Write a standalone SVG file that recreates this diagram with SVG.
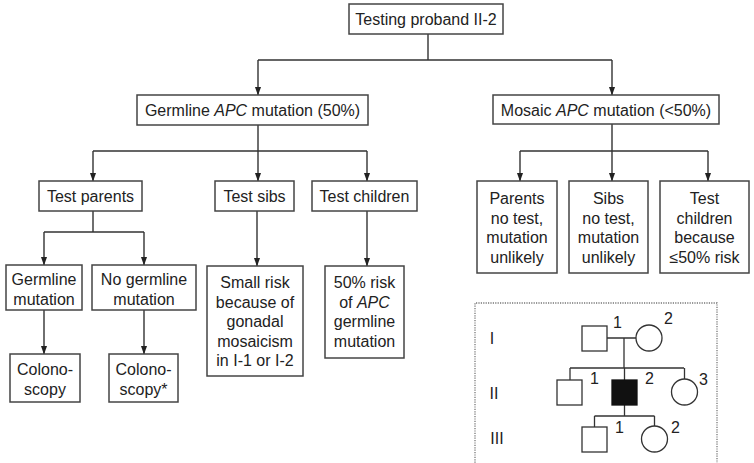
<svg xmlns="http://www.w3.org/2000/svg" width="754" height="463" viewBox="0 0 754 463">
<defs>
<marker id="arr" markerWidth="8" markerHeight="9" refX="4" refY="8.5" orient="0" markerUnits="userSpaceOnUse">
<path d="M0.8,0 L7.2,0 L4,9 Z" fill="#222"/>
</marker>
</defs>
<style>
.box{fill:#fff;stroke:#444;stroke-width:1.5}
.ln{fill:none;stroke:#333;stroke-width:1.4}
.a{fill:none;stroke:#333;stroke-width:1.4;marker-end:url(#arr)}
text{font-family:"Liberation Sans",Arial,sans-serif;font-size:16px;fill:#222;text-anchor:middle}
.i{font-style:italic}
.ped{fill:#fff;stroke:#333;stroke-width:1.3}
.pl{fill:none;stroke:#333;stroke-width:1.3}
.pt{font-size:16px;text-anchor:start}
</style>
<rect width="754" height="463" fill="#fff"/>

<g id="connectors">
<path class="ln" d="M428,34 V60 M258,60 H612"/>
<path class="a" d="M258,60 V95"/>
<path class="a" d="M612,60 V95"/>
<path class="ln" d="M258,125 V151 M93,151 H367"/>
<path class="a" d="M93,151 V181"/>
<path class="a" d="M258,151 V181"/>
<path class="a" d="M367,151 V181"/>
<path class="ln" d="M93,211 V232 M44,232 H144"/>
<path class="a" d="M44,232 V265"/>
<path class="a" d="M144,232 V265"/>
<path class="a" d="M44,310 V354"/>
<path class="a" d="M144,310 V354"/>
<path class="a" d="M257,211 V266"/>
<path class="a" d="M367,211 V266"/>
<path class="ln" d="M612,124 V151 M520,151 H708"/>
<path class="a" d="M520,151 V181"/>
<path class="a" d="M612,151 V181"/>
<path class="a" d="M708,151 V181"/>
</g>

<g id="n-top"><rect class="box" x="349" y="4" width="154" height="30"/><text x="426" y="25">Testing proband II-2</text></g>
<g id="n-germline"><rect class="box" x="137" y="95" width="231" height="30"/><text x="252.5" y="116">Germline <tspan class="i">APC</tspan> mutation (50%)</text></g>
<g id="n-mosaic"><rect class="box" x="493" y="95" width="226" height="29"/><text x="606" y="116">Mosaic <tspan class="i">APC</tspan> mutation (&lt;50%)</text></g>

<g id="n-testparents"><rect class="box" x="39" y="181" width="103" height="30"/><text x="90.5" y="202">Test parents</text></g>
<g id="n-testsibs"><rect class="box" x="215" y="181" width="79" height="30"/><text x="254.5" y="202">Test sibs</text></g>
<g id="n-testchildren"><rect class="box" x="312" y="181" width="105" height="30"/><text x="364.5" y="202">Test children</text></g>

<g id="n-gm"><rect class="box" x="6" y="265" width="76" height="45"/><text x="44" y="284.5">Germline</text><text x="44" y="304.5">mutation</text></g>
<g id="n-nogm"><rect class="box" x="92" y="265" width="104" height="45"/><text x="144" y="284.5">No germline</text><text x="144" y="304.5">mutation</text></g>

<g id="n-colo1"><rect class="box" x="10" y="354" width="70" height="48"/><text x="45" y="374.5">Colono-</text><text x="45" y="394.5">scopy</text></g>
<g id="n-colo2"><rect class="box" x="109" y="354" width="69" height="48"/><text x="143.5" y="374.5">Colono-</text><text x="143.5" y="394.5">scopy*</text></g>

<g id="n-smallrisk"><rect class="box" x="207" y="266" width="96" height="110"/>
<text x="255" y="288">Small risk</text><text x="255" y="307.5">because of</text><text x="255" y="327">gonadal</text><text x="255" y="346.5">mosaicism</text><text x="255" y="366">in I-1 or I-2</text></g>
<g id="n-50risk"><rect class="box" x="325" y="266" width="79" height="92"/>
<text x="364.5" y="288">50% risk</text><text x="364.5" y="307.5">of <tspan class="i">APC</tspan></text><text x="364.5" y="327">germline</text><text x="364.5" y="346.5">mutation</text></g>

<g id="n-parents"><rect class="box" x="477" y="181" width="80" height="92"/>
<text x="517" y="204">Parents</text><text x="517" y="223.5">no test,</text><text x="517" y="243">mutation</text><text x="517" y="262.5">unlikely</text></g>
<g id="n-sibs"><rect class="box" x="569" y="181" width="79" height="92"/>
<text x="608.5" y="204">Sibs</text><text x="608.5" y="223.5">no test,</text><text x="608.5" y="243">mutation</text><text x="608.5" y="262.5">unlikely</text></g>
<g id="n-children"><rect class="box" x="660" y="181" width="89" height="92"/>
<text x="704.5" y="204">Test</text><text x="704.5" y="223.5">children</text><text x="704.5" y="243">because</text><text x="704.5" y="262.5">≤50% risk</text></g>

<g id="pedigree">
<path d="M475,470 V303 H717 V470" fill="none" stroke="#777" stroke-width="1.3" stroke-dasharray="1.2,1.2"/>
<text x="492" y="344">I</text>
<text x="494" y="399">II</text>
<text x="497" y="444">III</text>
<path class="pl" d="M607,338 H636 M624,338 V368 M570,368 H684 M570,368 V380 M624.5,368 V380 M684.5,368 V379 M624.5,405 V416 M594.5,416 H654.5 M594.5,416 V427 M654.5,416 V426"/>
<rect class="ped" x="582" y="326" width="25" height="25"/>
<circle class="ped" cx="649" cy="338" r="13"/>
<rect class="ped" x="557" y="380" width="25" height="25"/>
<rect x="612" y="380" width="25" height="25" fill="#111" stroke="#111" stroke-width="1.3"/>
<circle class="ped" cx="684.5" cy="392" r="13"/>
<rect class="ped" x="582" y="427" width="25" height="25"/>
<circle class="ped" cx="654.5" cy="439" r="13"/>
<text class="pt" x="613" y="328">1</text>
<text class="pt" x="664" y="324">2</text>
<text class="pt" x="590" y="384">1</text>
<text class="pt" x="645" y="384">2</text>
<text class="pt" x="699" y="385">3</text>
<text class="pt" x="615" y="433">1</text>
<text class="pt" x="671" y="433">2</text>
</g>
</svg>
